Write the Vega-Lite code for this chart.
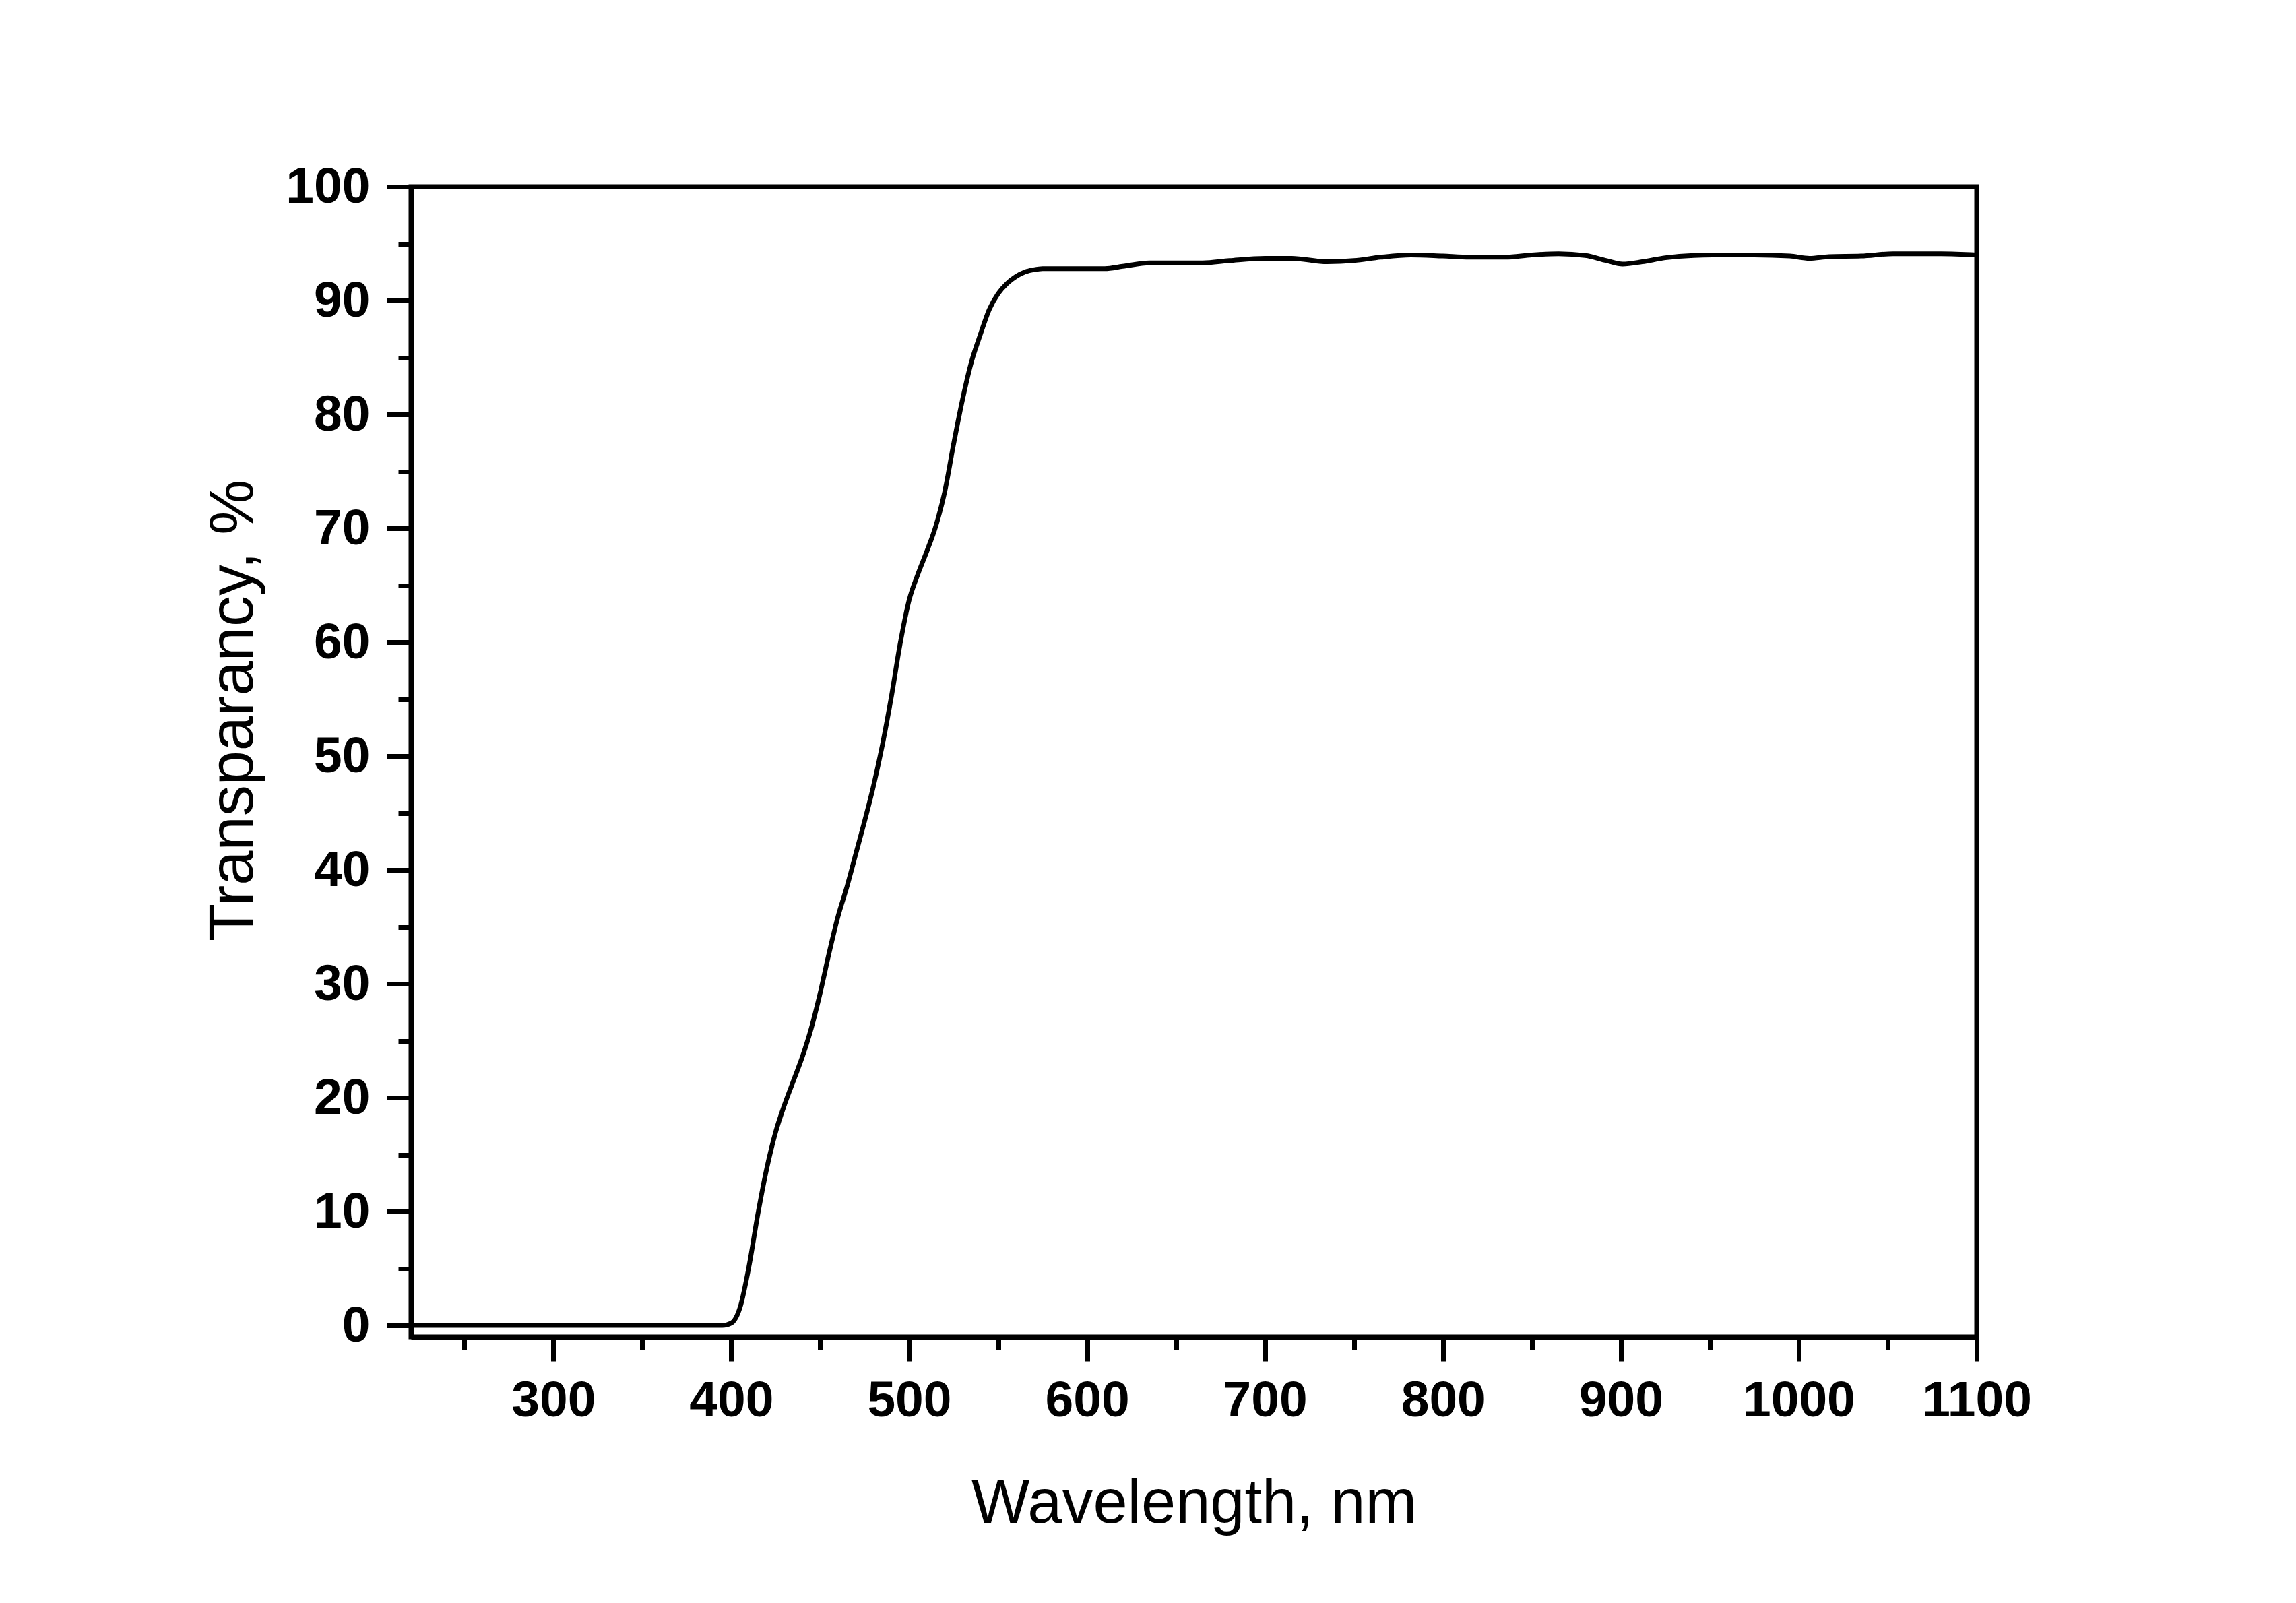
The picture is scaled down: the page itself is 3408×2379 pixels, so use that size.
{
  "$schema": "https://vega.github.io/schema/vega-lite/v6.json",
  "width": 2324,
  "height": 1707,
  "autosize": {"type": "none"},
  "padding": {"left": 610, "top": 277, "right": 474, "bottom": 395},
  "background": "white",
  "config": {
    "view": {"stroke": "black", "strokeWidth": 7},
    "axis": {
      "grid": false,
      "domainColor": "black", "domainWidth": 7,
      "tickColor": "black", "tickWidth": 7,
      "labelFont": "Liberation Sans", "labelFontWeight": "bold", "labelFontSize": 75, "labelColor": "black",
      "labelOverlap": false, "labelFlush": false, "labelLimit": 0, "format": "d",
      "titleFont": "Liberation Sans", "titleFontWeight": "normal", "titleFontSize": 92, "titleColor": "black"
    }
  },
  "data": {
    "values": [
      {"wavelength": 220, "transparency": 0},
      {"wavelength": 300, "transparency": 0},
      {"wavelength": 395, "transparency": 0},
      {"wavelength": 400, "transparency": 0.2},
      {"wavelength": 405, "transparency": 1.6},
      {"wavelength": 410, "transparency": 5.2},
      {"wavelength": 415, "transparency": 9.8},
      {"wavelength": 420, "transparency": 13.8},
      {"wavelength": 425, "transparency": 17},
      {"wavelength": 430, "transparency": 19.4},
      {"wavelength": 435, "transparency": 21.5},
      {"wavelength": 440, "transparency": 23.6},
      {"wavelength": 445, "transparency": 26.1},
      {"wavelength": 450, "transparency": 29.2},
      {"wavelength": 455, "transparency": 32.7},
      {"wavelength": 460, "transparency": 35.9},
      {"wavelength": 465, "transparency": 38.5},
      {"wavelength": 470, "transparency": 41.4},
      {"wavelength": 475, "transparency": 44.3},
      {"wavelength": 480, "transparency": 47.4},
      {"wavelength": 485, "transparency": 51},
      {"wavelength": 490, "transparency": 55.2},
      {"wavelength": 495, "transparency": 59.9},
      {"wavelength": 500, "transparency": 63.7},
      {"wavelength": 505, "transparency": 66},
      {"wavelength": 510, "transparency": 68},
      {"wavelength": 515, "transparency": 70.2},
      {"wavelength": 520, "transparency": 73.2},
      {"wavelength": 525, "transparency": 77.4},
      {"wavelength": 530, "transparency": 81.3},
      {"wavelength": 535, "transparency": 84.6},
      {"wavelength": 540, "transparency": 87},
      {"wavelength": 545, "transparency": 89.2},
      {"wavelength": 550, "transparency": 90.6},
      {"wavelength": 555, "transparency": 91.5},
      {"wavelength": 560, "transparency": 92.1},
      {"wavelength": 565, "transparency": 92.5},
      {"wavelength": 570, "transparency": 92.7},
      {"wavelength": 575, "transparency": 92.8},
      {"wavelength": 590, "transparency": 92.8},
      {"wavelength": 610, "transparency": 92.8},
      {"wavelength": 620, "transparency": 93},
      {"wavelength": 635, "transparency": 93.3},
      {"wavelength": 650, "transparency": 93.3},
      {"wavelength": 665, "transparency": 93.3},
      {"wavelength": 680, "transparency": 93.5},
      {"wavelength": 700, "transparency": 93.7},
      {"wavelength": 715, "transparency": 93.7},
      {"wavelength": 735, "transparency": 93.4},
      {"wavelength": 750, "transparency": 93.5},
      {"wavelength": 765, "transparency": 93.8},
      {"wavelength": 782, "transparency": 94},
      {"wavelength": 800, "transparency": 93.9},
      {"wavelength": 815, "transparency": 93.8},
      {"wavelength": 835, "transparency": 93.8},
      {"wavelength": 850, "transparency": 94},
      {"wavelength": 865, "transparency": 94.1},
      {"wavelength": 880, "transparency": 93.95},
      {"wavelength": 892, "transparency": 93.5},
      {"wavelength": 901, "transparency": 93.2},
      {"wavelength": 912, "transparency": 93.4},
      {"wavelength": 925, "transparency": 93.75},
      {"wavelength": 941, "transparency": 93.95},
      {"wavelength": 960, "transparency": 94},
      {"wavelength": 975, "transparency": 94},
      {"wavelength": 995, "transparency": 93.9},
      {"wavelength": 1006, "transparency": 93.7},
      {"wavelength": 1017, "transparency": 93.85},
      {"wavelength": 1035, "transparency": 93.9},
      {"wavelength": 1053, "transparency": 94.1},
      {"wavelength": 1080, "transparency": 94.1},
      {"wavelength": 1100, "transparency": 94}
    ]
  },
  "layer": [
    {
      "mark": {"type": "line", "color": "black", "strokeWidth": 7, "interpolate": "monotone"},
      "encoding": {
        "x": {
          "field": "wavelength", "type": "quantitative",
          "scale": {"domain": [220, 1100], "nice": false, "zero": false},
          "axis": {
            "orient": "bottom",
            "values": [300, 400, 500, 600, 700, 800, 900, 1000, 1100],
            "tickSize": 36, "labelPadding": 22,
            "title": "Wavelength, nm",
            "titleX": 1162, "titleY": 275, "titleAlign": "center", "titleBaseline": "alphabetic"
          }
        },
        "y": {
          "field": "transparency", "type": "quantitative",
          "scale": {"domain": [-1, 100], "nice": false, "zero": false},
          "axis": {
            "orient": "left",
            "values": [0, 10, 20, 30, 40, 50, 60, 70, 80, 90, 100],
            "tickSize": 36, "labelPadding": 25,
            "title": "Transparancy, %",
            "titleAngle": -90, "titleX": -236, "titleY": 777, "titleAlign": "center", "titleBaseline": "alphabetic"
          }
        }
      }
    },
    {
      "mark": {"type": "line", "strokeOpacity": 0},
      "encoding": {
        "x": {
          "field": "wavelength", "type": "quantitative",
          "axis": {
            "orient": "bottom",
            "values": [250, 350, 450, 550, 650, 750, 850, 950, 1050],
            "tickSize": 19, "labels": false, "domain": false, "title": null
          }
        },
        "y": {
          "field": "transparency", "type": "quantitative",
          "axis": {
            "orient": "left",
            "values": [5, 15, 25, 35, 45, 55, 65, 75, 85, 95],
            "tickSize": 19, "labels": false, "domain": false, "title": null
          }
        }
      }
    }
  ],
  "resolve": {"axis": {"x": "independent", "y": "independent"}}
}
